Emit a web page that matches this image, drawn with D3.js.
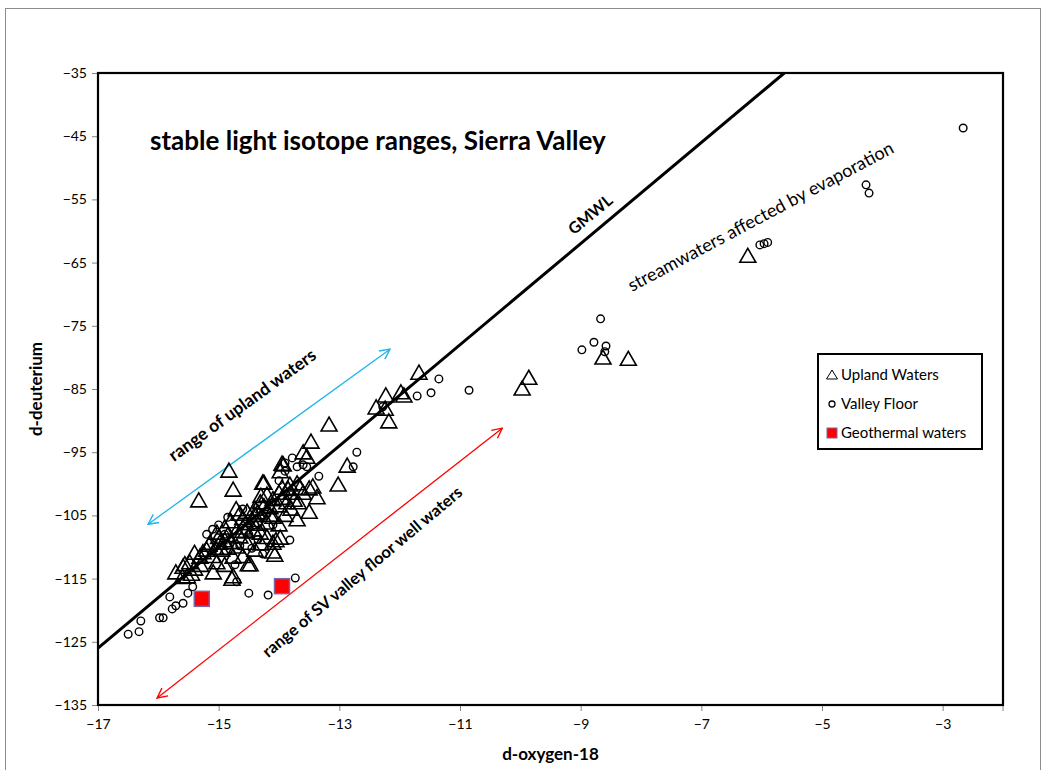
<!DOCTYPE html>
<html>
<head>
<meta charset="utf-8">
<script src="https://cdn.jsdelivr.net/npm/d3@7"></script>
<style>
  body { margin: 0; background: #fff; }
  text { font-family: Lato, "Open Sans", sans-serif; }
</style>
</head>
<body>
<div id="chart"></div>
<script>
// d-oxygen-18, d-deuterium pairs
const upland = [
  [-15.71,-114.1],[-15.56,-112.8],[-15.52,-114.7],[-15.14,-109.4],[-15.03,-107.8],[-14.71,-104.1],
  [-14.53,-104.5],[-14.31,-103.0],[-14.2,-101.8],[-13.95,-100.7],[-13.82,-100.2],[-13.68,-103.0],
  [-13.65,-100.7],[-13.44,-100.5],[-13.37,-102.2],[-13.5,-104.5],[-13.7,-105.7],[-13.98,-108.6],
  [-14.1,-109.4],[-14.07,-111.3],[-14.48,-112.8],[-14.76,-114.7],[-14.85,-110.2],[-14.43,-107.3],
  [-14.2,-106.2],[-14.65,-108.4],[-15.03,-112.5],[-15.31,-111.6],[-13.87,-103.0],[-14.1,-105.3],
  [-14.31,-107.8],[-14.53,-109.4],[-14.76,-111.6],[-14.98,-109.4],[-15.26,-110.9],[-15.48,-112.5],
  [-15.59,-113.2],[-15.09,-114.1],[-14.78,-115.1],[-14.51,-112.8],[-15.16,-109.7],
  [-15.33,-102.7],[-14.83,-98.0],[-14.76,-101.0],[-14.25,-99.9],[-13.93,-97.0],[-13.6,-95.1],
  [-13.17,-90.7],[-13.47,-93.4],[-13.54,-95.8],[-13.95,-96.9],[-13.98,-98.1],[-12.87,-97.2],
  [-13.02,-100.2],[-14.27,-99.9],
  [-12.23,-86.1],[-12.39,-88.0],[-11.98,-85.6],[-11.93,-86.1],[-12.18,-90.2],[-12.24,-88.2],[-11.68,-82.5],
  [-9.86,-83.3],[-9.97,-85.0],[-8.63,-80.1],[-8.21,-80.3],[-6.23,-64.0],
  [-15.4,-111.0],[-15.2,-110.5],[-15.0,-108.5],[-14.9,-107.0],[-14.8,-106.0],[-14.6,-105.5],
  [-14.6,-107.0],[-14.4,-105.0],[-14.4,-104.0],[-14.3,-102.0],[-14.1,-102.5],[-14.0,-101.5],
  [-14.0,-103.5],[-13.8,-101.5],[-14.9,-109.0],[-14.7,-110.0],[-14.6,-111.5],[-14.3,-109.5],
  [-14.2,-108.5],[-14.0,-106.5],[-13.9,-105.0],[-13.8,-104.0],[-15.6,-114.8],[-15.4,-113.5],
  [-14.4,-110.5],[-14.1,-110.8],[-13.6,-101.5],[-13.5,-100.8],[-14.05,-109.0],
  [-15.1,-111.5],[-14.95,-110.5],[-14.85,-108.2],[-14.7,-107.5],[-14.55,-106.3],[-14.45,-105.8],
  [-14.35,-104.6],[-14.25,-103.6],[-14.15,-103.8],[-13.95,-102.3],[-13.75,-102.6],[-14.65,-104.8],
  [-15.3,-112.9],[-15.45,-114.3],[-14.9,-112.9],[-15.05,-110.2],[-14.8,-109.3],[-14.55,-107.6],
  [-14.35,-106.4],[-14.15,-105.0],[-13.85,-100.9],[-13.7,-100.0]
];

const valley = [
  [-13.78,-95.9],[-13.54,-97.3],[-13.34,-98.8],[-12.71,-95.0],[-12.77,-97.3],[-13.7,-97.3],
  [-13.9,-96.7],[-14.1,-106.5],[-13.82,-108.9],[-14.27,-111.1],[-14.45,-110.2],[-14.73,-112.8],
  [-14.85,-105.3],[-13.73,-114.9],[-13.6,-97.0],
  [-16.5,-123.8],[-16.32,-123.4],[-16.29,-121.7],[-15.92,-121.2],[-15.98,-121.2],[-15.77,-119.8],
  [-15.71,-119.3],[-15.59,-118.9],[-15.81,-117.9],[-15.51,-117.3],[-15.43,-116.3],[-14.5,-117.3],
  [-14.18,-117.6],[-14.7,-115.5],
  [-12.28,-87.8],[-11.71,-86.1],[-11.48,-85.6],[-11.35,-83.4],[-10.85,-85.2],
  [-8.67,-73.9],[-8.78,-77.6],[-8.98,-78.8],[-8.58,-78.2],[-8.6,-79.1],
  [-6.03,-62.2],[-5.96,-62.0],[-5.9,-61.8],[-4.27,-52.7],[-4.22,-54.0],[-2.66,-43.7],
  [-15.0,-106.5],[-14.6,-104.0],[-14.9,-108.0],[-14.4,-106.5],[-14.5,-108.0],[-15.2,-108.0],
  [-14.2,-104.8],[-14.0,-99.5],[-13.9,-98.0],[-14.35,-108.8],[-14.65,-109.8],[-15.1,-107.2]
];

const geothermal = [[-15.28,-118.2],[-13.95,-116.2]];

// global meteoric water line end points
const gmwl = [[-17,-126],[-5.625,-35]];

const xTicks = [-17,-15,-13,-11,-9,-7,-5,-3];
const yTicks = [-35,-45,-55,-65,-75,-85,-95,-105,-115,-125,-135];

const legendItems = ["Upland Waters", "Valley Floor", "Geothermal waters"];

const width = 1047, height = 770;
const plot = {left: 98, top: 73, right: 1003, bottom: 705};

const x = d3.scaleLinear().domain([-17, -2]).range([plot.left, plot.right]);
const y = d3.scaleLinear().domain([-135, -35]).range([plot.bottom, plot.top]);

const svg = d3.select("#chart").append("svg")
  .attr("width", width)
  .attr("height", height);

// outer chart frame
svg.append("rect")
  .attr("x", 5.5).attr("y", 8.5)
  .attr("width", 1035).attr("height", 775)
  .attr("fill", "#fff")
  .attr("stroke", "#8c8c8c")
  .attr("stroke-width", 1);

// axes
const xAxis = d3.axisBottom(x).tickValues(xTicks).tickSize(6).tickPadding(8)
  .tickFormat(d3.format("d"));
const yAxis = d3.axisLeft(y).tickValues(yTicks).tickSize(6).tickPadding(5)
  .tickFormat(d3.format("d"));

const gx = svg.append("g")
  .attr("transform", `translate(0,${plot.bottom})`)
  .call(xAxis);
const gy = svg.append("g")
  .attr("transform", `translate(${plot.left},0)`)
  .call(yAxis);

[gx, gy].forEach(g => {
  g.select(".domain").remove();
  g.selectAll(".tick line").attr("stroke", "#868686");
  g.selectAll(".tick text")
    .attr("fill", "#000")
    .style("font-size", "14px")
    .style("font-family", "Lato, sans-serif");
});
// extra tick at right end of x axis
gx.append("line")
  .attr("x1", x(-2)).attr("x2", x(-2))
  .attr("y1", 0).attr("y2", 6)
  .attr("stroke", "#868686");

// plot frame
svg.append("rect")
  .attr("x", plot.left).attr("y", plot.top)
  .attr("width", plot.right - plot.left)
  .attr("height", plot.bottom - plot.top)
  .attr("fill", "none")
  .attr("stroke", "#000")
  .attr("stroke-width", 2.2);

// axis titles
svg.append("text")
  .attr("x", x(-9.5)).attr("y", 760)
  .attr("text-anchor", "middle")
  .attr("font-weight", "bold")
  .attr("font-size", 17)
  .text("d-oxygen-18");

svg.append("text")
  .attr("transform", `translate(42,${(plot.top + plot.bottom) / 2}) rotate(-90)`)
  .attr("text-anchor", "middle")
  .attr("font-weight", "bold")
  .attr("font-size", 17)
  .text("d-deuterium");

// arrow heads
const defs = svg.append("defs");
const addMarker = (id, color) => {
  defs.append("marker")
    .attr("id", id)
    .attr("viewBox", "0 0 12 12")
    .attr("refX", 11).attr("refY", 6)
    .attr("markerWidth", 12).attr("markerHeight", 12)
    .attr("markerUnits", "userSpaceOnUse")
    .attr("orient", "auto-start-reverse")
    .append("path")
    .attr("d", "M1,1 L11,6 L1,11")
    .attr("fill", "none")
    .attr("stroke", color)
    .attr("stroke-width", 1.4);
};
addMarker("arrowBlue", "#1fb4ea");
addMarker("arrowRed", "#ff0000");

const arrows = [
  {from: [-16.17, -106.4], to: [-12.16, -78.7], color: "#1fb4ea", marker: "arrowBlue"},
  {from: [-16.02, -133.9], to: [-10.3, -91.2], color: "#ff0000", marker: "arrowRed"}
];
svg.append("g").selectAll("line")
  .data(arrows)
  .join("line")
  .attr("x1", d => x(d.from[0])).attr("y1", d => y(d.from[1]))
  .attr("x2", d => x(d.to[0])).attr("y2", d => y(d.to[1]))
  .attr("stroke", d => d.color)
  .attr("stroke-width", 1.3)
  .attr("marker-start", d => `url(#${d.marker})`)
  .attr("marker-end", d => `url(#${d.marker})`);

// GMWL
svg.append("line")
  .attr("x1", x(gmwl[0][0])).attr("y1", y(gmwl[0][1]))
  .attr("x2", x(gmwl[1][0])).attr("y2", y(gmwl[1][1]))
  .attr("stroke", "#000")
  .attr("stroke-width", 3);

const triPath = "M0,-8L8,6L-8,6Z";

// valley floor circles
svg.append("g").selectAll("circle")
  .data(valley)
  .join("circle")
  .attr("cx", d => x(d[0]))
  .attr("cy", d => y(d[1]))
  .attr("r", 3.8)
  .attr("fill", "none")
  .attr("stroke", "#000")
  .attr("stroke-width", 1.4);

// upland triangles
svg.append("g").selectAll("path")
  .data(upland)
  .join("path")
  .attr("transform", d => `translate(${x(d[0])},${y(d[1])})`)
  .attr("d", triPath)
  .attr("fill", "none")
  .attr("stroke", "#000")
  .attr("stroke-width", 1.6);

// geothermal squares
svg.append("g").selectAll("rect")
  .data(geothermal)
  .join("rect")
  .attr("x", d => x(d[0]) - 7.5)
  .attr("y", d => y(d[1]) - 7.5)
  .attr("width", 15).attr("height", 15)
  .attr("fill", "#ff0000")
  .attr("stroke", "#7a64a8")
  .attr("stroke-width", 1.5);

// annotations
svg.append("text")
  .attr("x", 150).attr("y", 150)
  .attr("font-weight", "bold")
  .attr("font-size", 26)
  .text("stable light isotope ranges, Sierra Valley");

const notes = [
  {text: "GMWL", at: [-8.85, -57.3], angle: -40, size: 16, weight: "bold", anchor: "middle"},
  {text: "streamwaters affected by evaporation", at: [-8.15, -69.65], angle: -28, size: 18, weight: "normal", anchor: "start"},
  {text: "range of upland waters", at: [-15.74, -96.55], angle: -36, size: 17.5, weight: "bold", anchor: "start"},
  {text: "range of SV valley floor well waters", at: [-14.18, -127.6], angle: -40, size: 16.5, weight: "bold", anchor: "start"}
];
svg.append("g").selectAll("text")
  .data(notes)
  .join("text")
  .attr("transform", d => `translate(${x(d.at[0])},${y(d.at[1])}) rotate(${d.angle})`)
  .attr("text-anchor", d => d.anchor)
  .attr("dominant-baseline", d => d.anchor === "middle" ? "central" : "auto")
  .attr("font-weight", d => d.weight)
  .attr("font-size", d => d.size)
  .text(d => d.text);

// legend
const legend = svg.append("g");
legend.append("rect")
  .attr("x", 818).attr("y", 354)
  .attr("width", 164).attr("height", 95)
  .attr("fill", "#fff")
  .attr("stroke", "#000")
  .attr("stroke-width", 2);

const legendY = d3.scalePoint().domain(legendItems).range([375, 433]);
const lg = legend.selectAll("g.item")
  .data(legendItems)
  .join("g")
  .attr("class", "item")
  .attr("transform", d => `translate(832,${legendY(d)})`);

lg.filter((d, i) => i === 0).append("path")
  .attr("d", "M0,-5L5.5,4L-5.5,4Z")
  .attr("fill", "none").attr("stroke", "#000").attr("stroke-width", 1);
lg.filter((d, i) => i === 1).append("circle")
  .attr("r", 3).attr("fill", "none").attr("stroke", "#000").attr("stroke-width", 1.3);
lg.filter((d, i) => i === 2).append("rect")
  .attr("x", -5).attr("y", -5).attr("width", 10).attr("height", 10)
  .attr("fill", "#ff0000").attr("stroke", "#7a64a8").attr("stroke-width", 1);

lg.append("text")
  .attr("x", 9).attr("y", 5)
  .attr("font-size", 15)
  .text(d => d);
</script>
</body>
</html>
